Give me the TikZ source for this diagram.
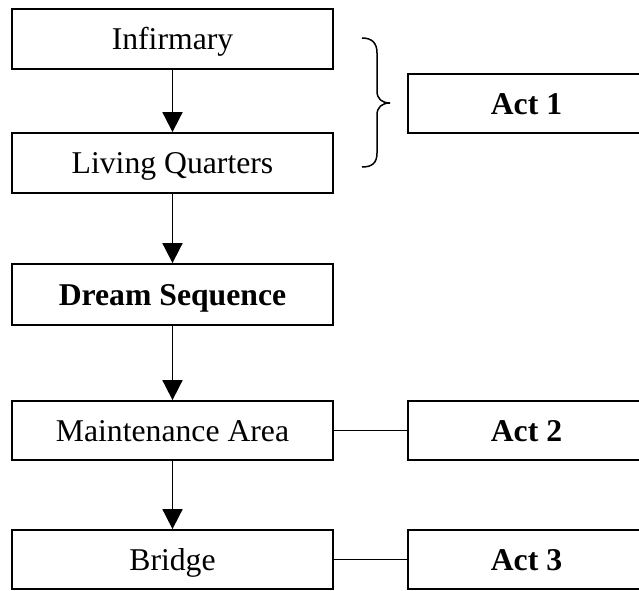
\documentclass[tikz,border=0pt]{standalone}
\usepackage{fontspec}
\setmainfont{Liberation Serif}
\usetikzlibrary{arrows.meta}
\begin{document}
\begin{tikzpicture}[x=1pt,y=-1pt,line width=1.8pt,
  box/.style={draw,rectangle,minimum width=321pt,minimum height=60pt,inner sep=0pt,text height=21pt,text depth=0pt,font=\fontsize{31.7}{38}\selectfont},
  actbox/.style={box,minimum width=237pt,font=\fontsize{31.7}{38}\selectfont\bfseries},
  flow/.style={-{Triangle[length=20pt,width=20pt]}},
  link/.style={line width=1.8pt}]
\useasboundingbox (0,0) rectangle (639,590);
\clip (0,0) rectangle (639,590);
\node[box] (inf) at (172.5,39) {Infirmary};
\node[box] (lq) at (172.5,163) {Living Quarters};
\node[box,minimum height=61pt,font=\fontsize{31.7}{38}\selectfont\bfseries] (dream) at (172.5,294.5) {Dream Sequence};
\node[box,minimum height=59pt] (maint) at (172.5,430.5) {Maintenance Area};
\node[box,minimum height=59pt] (bridge) at (172.5,559.5) {Bridge};
\node[actbox,minimum height=59pt] (act1) at (526.5,103.5) {Act 1};
\node[actbox,minimum height=59pt] (act2) at (526.5,430.5) {Act 2};
\node[actbox,minimum height=59pt] (act3) at (526.5,559.5) {Act 3};
\draw[flow] (inf) -- (lq);
\draw[flow] (lq) -- (dream);
\draw[flow] (dream) -- (maint);
\draw[flow] (maint) -- (bridge);
\draw[link] (maint) -- (act2);
\draw[link] (bridge) -- (act3);
\coordinate (btop) at (362,38);
\coordinate (btip) at (390,103);
\coordinate (bbot) at (362,167);
\draw[line width=1.5pt] (btop) .. controls (372,38) and (377,43) .. (377,53)
  -- (377,91) .. controls (377,99) and (382,103) .. (btip)
  .. controls (382,103) and (377,107) .. (377,115)
  -- (377,153) .. controls (377,163) and (372,167) .. (bbot);
\end{tikzpicture}
\end{document}
